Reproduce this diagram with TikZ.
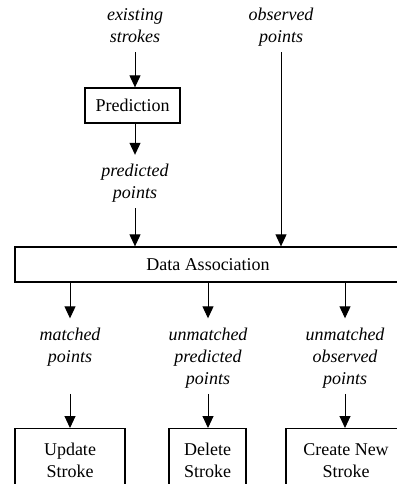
\documentclass[tikz,border=0pt]{standalone}
\usepackage{fontspec}
\setmainfont{Liberation Serif}
\usetikzlibrary{arrows.meta,positioning}

\begin{document}
\begin{tikzpicture}[
  x=1pt, y=-1pt,
  font=\fontsize{18}{22}\selectfont,
  box/.style={draw, line width=1.3pt, inner sep=0pt, align=center, minimum height=35pt},
  lbl/.style={inner sep=0pt, align=center, font=\fontsize{18}{22}\selectfont\itshape, anchor=base,
    execute at begin node=\strut, execute at end node=\strut},
  flow/.style={line width=1pt, -{Triangle[length=12pt,width=11pt]}},
  from lbl/.style={shorten <=3pt},
  to lbl/.style={shorten >=9pt}
]
\useasboundingbox (0,0) rectangle (396,484);
% inputs
\node[lbl] (existing) at (135,42.5) {existing\\strokes};
\node[lbl] (observed) at (281,42.5) {observed\\points};
\node[box, minimum width=95pt] (prediction) at (132.5,105.5) {Prediction};
\node[lbl] (predicted) at (135,198.5) {predicted\\points};
\node[box, minimum width=386pt] (assoc) at (208,264.5) {Data Association};
% outputs
\node[lbl] (matched) at (70,362) {matched\\points};
\node[lbl] (unpred) at (208,384) {unmatched\\predicted\\points};
\node[lbl] (unobs) at (345,384) {unmatched\\observed\\points};
\node[box, anchor=north, minimum width=110pt, minimum height=64pt] (update) at (70,428) {Update\\Stroke};
\node[box, anchor=north, minimum width=77pt, minimum height=64pt] (delete) at (207.5,428) {Delete\\Stroke};
\node[box, anchor=north, minimum width=120pt, minimum height=64pt] (create) at (346,428) {Create New\\Stroke};
\draw[flow, from lbl] (existing) -- (prediction.north -| existing);
\draw[flow, to lbl] (prediction.south -| predicted) -- (predicted);
\draw[flow, from lbl] (predicted) -- (assoc.north -| predicted);
\draw[flow, from lbl] (observed) -- (assoc.north -| observed);
\draw[flow, to lbl] (assoc.south -| matched) -- (matched);
\draw[flow, to lbl] (assoc.south -| unpred) -- (unpred);
\draw[flow, to lbl] (assoc.south -| unobs) -- (unobs);
\draw[flow, from lbl] (unpred.south -| matched) -- (update);
\draw[flow, from lbl] (unpred) -- (delete.north -| unpred);
\draw[flow, from lbl] (unobs) -- (create.north -| unobs);
\end{tikzpicture}
\end{document}
